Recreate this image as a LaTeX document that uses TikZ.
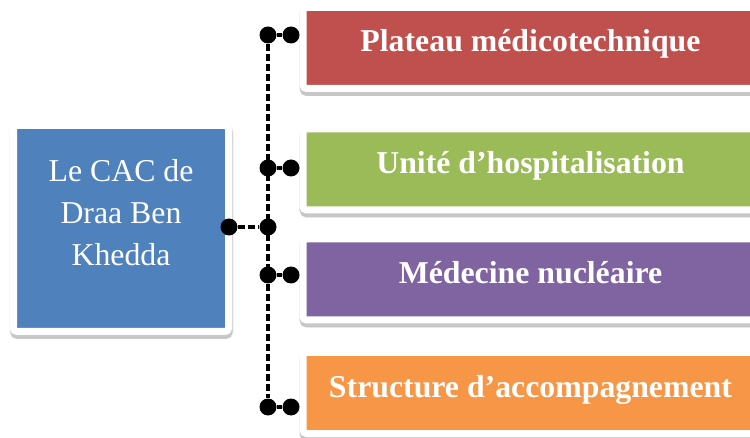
\documentclass[tikz,border=0pt]{standalone}
\usepackage{fontspec}
\setmainfont{Liberation Serif}
\usetikzlibrary{positioning}

\definecolor{cacblue}{HTML}{4F81BD}
\definecolor{platred}{HTML}{C0504D}
\definecolor{hospgreen}{HTML}{9BBB59}
\definecolor{nucviolet}{HTML}{8064A2}
\definecolor{accorange}{HTML}{F79646}

\begin{document}
\begin{tikzpicture}[x=1pt,y=-1pt,
  frame/.style={draw=white, line width=7pt, rounded corners=3.5pt, inner sep=0pt,
    text=white,
    preaction={draw=black!8, fill=black!8, line width=9pt,
      transform canvas={shift={(0.5pt,-3pt)}}},
    preaction={draw=black!22, fill=black!22,
      transform canvas={shift={(0.5pt,-4pt)}}}},
  unit/.style={frame, anchor=west, minimum width=455pt, minimum height=81pt,
    text height=22pt, text depth=14pt,
    font=\fontsize{31.8}{38}\selectfont\bfseries},
  dot/.style={circle, fill=black, inner sep=0pt, minimum size=17pt},
  link/.style={line width=3.2pt, dash pattern=on 7pt off 3pt}]
  \useasboundingbox (0,0) rectangle (750,438);

  \node[frame, fill=cacblue, minimum width=215pt, minimum height=206pt,
    label={[text=white, align=center, yshift=16pt,
      font=\fontsize{31.8}{42}\selectfont]center:Le CAC de\\Draa Ben\\Khedda}]
    (cac) at (121,228.5) {};

  \node[unit, fill=platred]   (plateau) at (299.5,48)    {Plateau médicotechnique};
  \node[unit, fill=hospgreen] (hospit)  at (299.5,169.5) {Unité d’hospitalisation};
  \node[unit, fill=nucviolet] (nucl)    at (299.5,279.5) {Médecine nucléaire};
  \node[unit, fill=accorange] (accomp)  at (299.5,393)   {Structure d’accompagnement};

  \foreach \name/\y in {a/35,b/168,c/275,d/407}{
    \node[dot] (t\name) at (268,\y) {};
    \node[dot] (s\name) at (291,\y) {};
    \draw[line width=3.2pt] (t\name) -- (s\name);
  }
  \node[dot] (root) at (229,227) {};
  \node[dot] (hub) at (268,227) {};

  \draw[link] (ta) -- (td);
  \draw[link] (root) -- (hub);

\end{tikzpicture}
\end{document}
